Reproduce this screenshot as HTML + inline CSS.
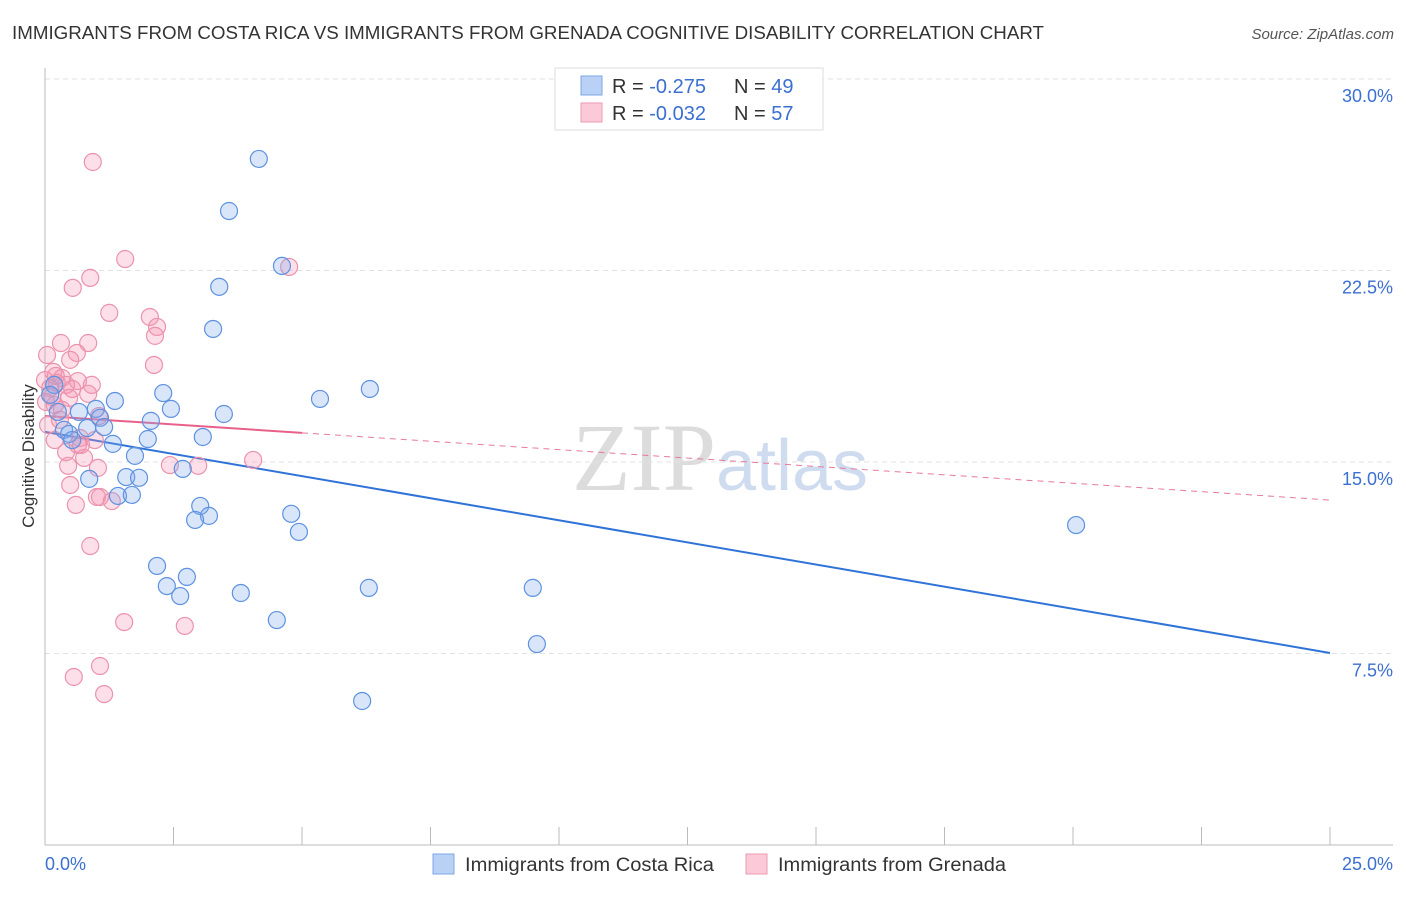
<!DOCTYPE html>
<html><head><meta charset="utf-8"><style>
body{margin:0;background:#fff;font-family:"Liberation Sans",sans-serif;}
svg text{font-family:"Liberation Sans",sans-serif;}
</style></head><body>
<svg id="chart" width="1406" height="892" xmlns="http://www.w3.org/2000/svg">
<text x="12" y="39" font-size="18" fill="#333" textLength="1032" lengthAdjust="spacingAndGlyphs">IMMIGRANTS FROM COSTA RICA VS IMMIGRANTS FROM GRENADA COGNITIVE DISABILITY CORRELATION CHART</text>
<text x="1394" y="39" font-size="15" fill="#555" text-anchor="end" font-style="italic">Source: ZipAtlas.com</text>
<text x="720" y="490" font-size="96" text-anchor="middle"><tspan fill="#dcdcdc" font-family="Liberation Serif">ZIP</tspan><tspan fill="#cfdcf0" font-size="72">atlas</tspan></text>
<g id="grid"></g>
<g id="axes"></g>
<g id="trends"></g>
<g id="points"></g>
<text transform="translate(34,456) rotate(-90)" font-size="17" fill="#333" text-anchor="middle">Cognitive Disability</text>
<g>
<rect x="555" y="68" width="268" height="62" fill="#fff" stroke="#ddd"/>
<rect x="581" y="76" width="21" height="19" fill="#b8d1f5" stroke="#7ea6e4"/>
<rect x="581" y="103" width="21" height="19" fill="#fbc9d7" stroke="#ee9ab2"/>
<text x="612" y="93" font-size="20" fill="#333">R = <tspan fill="#3b6fd0">-0.275</tspan>  <tspan x="734">N = </tspan><tspan fill="#3b6fd0">49</tspan></text>
<text x="612" y="120" font-size="20" fill="#333">R = <tspan fill="#3b6fd0">-0.032</tspan>  <tspan x="734">N = </tspan><tspan fill="#3b6fd0">57</tspan></text>
</g>
<g>
<rect x="433" y="854" width="21" height="20" fill="#b8d1f5" stroke="#7ea6e4"/>
<text x="465" y="871" font-size="19" fill="#333" textLength="249" lengthAdjust="spacingAndGlyphs">Immigrants from Costa Rica</text>
<rect x="746" y="854" width="21" height="20" fill="#fbc9d7" stroke="#ee9ab2"/>
<text x="778" y="871" font-size="19" fill="#333" textLength="228" lengthAdjust="spacingAndGlyphs">Immigrants from Grenada</text>
</g>
</svg>
<script>
const yTicks=[7.5,15,22.5,30];
const yTickLabels=["7.5%","15.0%","22.5%","30.0%"];
const xTicks=[0,2.5,5,7.5,10,12.5,15,17.5,20,22.5,25];
const xTickLabels=["0.0%","25.0%"];
const blueX=[4.16,3.58,4.61,3.39,3.27,2.30,1.36,2.45,0.99,0.66,0.25,1.07,1.15,2.06,0.82,3.48,5.35,6.32,0.37,0.47,1.32,2.00,3.07,1.75,2.68,1.58,1.83,0.86,1.42,1.69,3.02,3.19,2.92,4.79,4.94,20.06,2.18,2.76,2.37,2.63,3.81,6.30,9.49,4.51,9.57,6.17,0.18,0.10,0.53];
const blueY=[26.87,24.83,22.68,21.86,20.21,17.70,17.39,17.08,17.08,16.96,16.96,16.73,16.37,16.61,16.33,16.88,17.47,17.86,16.26,16.10,15.71,15.90,15.98,15.24,14.73,14.41,14.38,14.34,13.67,13.71,13.28,12.89,12.73,12.97,12.26,12.53,10.93,10.50,10.14,9.75,9.87,10.07,10.07,8.81,7.87,5.64,18.02,17.63,15.86];
const pinkX=[0.93,1.56,0.88,0.54,1.25,2.04,2.18,2.14,0.31,0.84,0.04,0.62,0.49,2.12,0.16,0.33,0.00,0.64,0.23,0.41,0.91,0.10,0.53,0.84,0.47,0.02,0.19,1.05,0.68,0.19,0.70,0.41,0.97,0.76,1.03,0.45,2.43,2.98,4.05,0.49,1.01,1.30,1.07,0.60,0.88,1.54,2.72,1.07,0.56,1.15,4.75,0.21,0.33,0.06,0.64,0.29,0.14];
const pinkY=[26.75,22.95,22.21,21.82,20.84,20.68,20.29,19.94,19.66,19.66,19.19,19.27,19.00,18.80,18.53,18.29,18.21,18.17,18.10,18.02,18.02,17.90,17.86,17.67,17.51,17.35,17.23,16.80,15.94,15.86,15.67,15.39,15.86,15.16,14.77,14.85,14.88,14.85,15.08,14.10,13.63,13.47,13.63,13.32,11.71,8.73,8.58,7.01,6.58,5.91,22.64,18.37,17.04,16.45,15.67,16.65,17.55];
const blueTrend=[16.18,7.52];
const pinkTrend=[16.80,13.51];
const pinkSolidEnd=5;
const NS="http://www.w3.org/2000/svg";
const X0=45,X1=1330,Y0=845,PPU=191.5/7.5;
function sx(v){return X0+(X1-X0)*v/25;}
function sy(v){return Y0-v*PPU;}
function mk(tag,attrs,parent){const e=document.createElementNS(NS,tag);for(const k in attrs)e.setAttribute(k,attrs[k]);parent.appendChild(e);return e;}
const grid=document.getElementById('grid'),axes=document.getElementById('axes'),tr=document.getElementById('trends'),pts=document.getElementById('points');
yTicks.forEach((t,i)=>{
 const l=mk('line',{x1:X0,x2:1393,y1:sy(t),y2:sy(t),stroke:'#e2e2e2','stroke-dasharray':'5,4'},grid);
 
 
 const tx=mk('text',{x:1393,y:sy(t)+23,'font-size':18,fill:'#3b6fd0','text-anchor':'end'},axes);
 tx.textContent=yTickLabels[i];
 
 
});
const ya=mk('line',{x1:X0,x2:X0,y1:68,y2:Y0,stroke:'#bbb'},axes);


const xa=mk('line',{x1:X0,x2:1393,y1:Y0,y2:Y0,stroke:'#bbb'},axes);


xTicks.forEach(t=>{const l=mk('line',{x1:sx(t),x2:sx(t),y1:Y0-18,y2:Y0,stroke:'#bbb'},axes);
 
 });
const xl0=mk('text',{x:45,y:870,'font-size':18,fill:'#3b6fd0'},axes);xl0.textContent=xTickLabels[0];


const xl1=mk('text',{x:1393,y:870,'font-size':18,fill:'#3b6fd0','text-anchor':'end'},axes);xl1.textContent=xTickLabels[1];


function pt(x,y,fill,stroke,name){const c=mk('circle',{cx:sx(x),cy:sy(y),r:8.5,fill:fill,stroke:stroke,'stroke-width':1.2},pts);
 
 }
pinkX.forEach((x,i)=>pt(x,pinkY[i],'rgba(244,150,178,0.3)','#eb93ad','point-grenada'));
blueX.forEach((x,i)=>pt(x,blueY[i],'rgba(130,170,235,0.3)','#5e92e0','point-costa-rica'));
const pl=pinkTrend[0]+(pinkTrend[1]-pinkTrend[0])*pinkSolidEnd/25;
const pd=mk('line',{x1:sx(pinkSolidEnd),y1:sy(pl),x2:sx(25),y2:sy(pinkTrend[1]),stroke:'#e8799c','stroke-width':1,'stroke-dasharray':'6,5'},tr);


const ps=mk('line',{x1:sx(0),y1:sy(pinkTrend[0]),x2:sx(pinkSolidEnd),y2:sy(pl),stroke:'#e8608a','stroke-width':2},tr);


const bl=mk('line',{x1:sx(0),y1:sy(blueTrend[0]),x2:sx(25),y2:sy(blueTrend[1]),stroke:'#2f73d8','stroke-width':2},tr);


</script>
</body></html>
